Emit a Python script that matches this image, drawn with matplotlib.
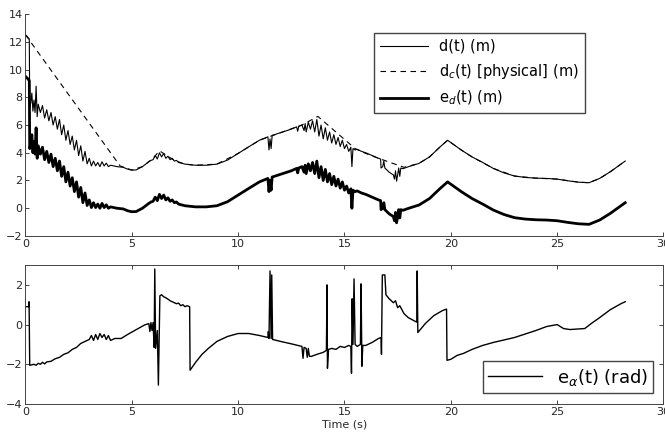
import numpy as np
import matplotlib as mpl
mpl.use('Agg')
import matplotlib.pyplot as plt

# top panel: distance d(t), commanded distance d_c(t), error e_d(t)
t_top = [0.0, 0.1, 0.18, 0.2,
         0.25, 0.3, 0.35, 0.4, 0.45, 0.5, 0.55, 0.6, 0.7, 0.8, 0.9, 1.0, 1.1, 1.2, 1.3, 1.4,
         1.5, 1.6, 1.7, 1.8, 1.9, 2.0, 2.1, 2.2, 2.3, 2.4, 2.5, 2.6, 2.7, 2.8, 2.9, 3.0,
         3.1, 3.2, 3.3, 3.4, 3.5, 3.6, 3.7, 3.8, 3.9, 4.0,
         4.3, 4.6, 4.8, 5.0, 5.2, 5.5, 5.8,
         5.9, 6.0, 6.1, 6.2, 6.3, 6.4, 6.5, 6.6, 6.7, 6.8, 6.9, 7.0, 7.1, 7.2,
         7.5, 8.0, 8.5, 9.0, 9.5, 10.0, 10.5, 11.0,
         11.4, 11.45, 11.5, 11.55, 11.6, 12.0, 12.5, 12.75,
         12.8, 12.85, 13.0, 13.1, 13.15, 13.2, 13.3, 13.4, 13.5, 13.6, 13.7, 13.8, 13.9,
         14.0, 14.1, 14.2, 14.3, 14.4, 14.5, 14.6, 14.7, 14.8, 14.9, 15.0, 15.1, 15.2, 15.3,
         15.35, 15.4, 15.5, 15.6, 15.8, 16.0, 16.3, 16.6, 16.7,
         16.72, 16.8, 16.85, 16.9, 17.0, 17.1, 17.2, 17.3, 17.35, 17.4, 17.45, 17.5, 17.55,
         17.6, 17.65, 17.75,
         18.0, 18.5, 19.0, 19.5, 19.85, 20.5, 21.0, 21.5, 22.0, 22.5, 23.0, 23.5, 24.0,
         24.5, 25.0, 25.5, 26.0, 26.5, 27.0, 27.5, 28.0, 28.2]

d = [12.5, 12.35, 12.2, 7.3,
     7.6, 8.3, 7.0, 7.8, 6.9, 8.8, 6.6, 7.5, 6.9, 7.4, 6.5, 7.1, 6.3, 6.9, 6.0, 6.6,
     5.7, 6.4, 5.3, 6.0, 4.9, 5.6, 4.6, 5.2, 4.2, 4.9, 3.8, 4.5, 3.4, 4.1, 3.2, 3.6,
     3.05, 3.4, 3.05, 3.3, 3.0, 3.35, 3.05, 3.25, 3.0, 3.1,
     3.0, 2.95, 2.82, 2.75, 2.76, 3.0, 3.35,
     3.45, 3.5, 3.8, 3.55, 4.0, 3.7, 3.95, 3.6, 3.75, 3.5, 3.6, 3.4, 3.45, 3.3,
     3.18, 3.1, 3.1, 3.18, 3.47, 3.95, 4.43, 4.9,
     5.15, 4.2, 5.0, 4.3, 5.25, 5.45, 5.7, 5.87,
     5.55, 5.9, 6.0, 5.6, 6.1, 5.5, 6.2, 5.7, 6.3, 5.5, 6.4, 5.2, 6.0,
     5.0, 5.8, 4.9, 5.5, 4.7, 5.3, 4.6, 5.1, 4.45, 4.9, 4.3, 4.6, 4.1, 4.4,
     3.0, 4.3, 4.2, 4.25, 4.1, 4.0, 3.8, 3.6, 3.55,
     2.9, 3.0, 3.4, 2.9, 2.75, 2.6, 2.5, 2.4, 2.1, 2.7, 1.95, 2.4, 2.9,
     2.3, 2.9, 2.85,
     2.99, 3.23, 3.7, 4.43, 4.9, 4.19, 3.7, 3.3, 2.87, 2.55, 2.32, 2.22, 2.17,
     2.15, 2.1, 1.98, 1.88, 1.84, 2.15, 2.63, 3.18, 3.4]

e_d = [9.5, 9.35, 9.2, 4.3,
       4.6, 5.3, 4.0, 4.8, 3.9, 5.8, 3.6, 4.5, 3.9, 4.4, 3.5, 4.1, 3.3, 3.9, 3.0, 3.6,
       2.7, 3.4, 2.3, 3.0, 1.9, 2.6, 1.6, 2.2, 1.2, 1.9, 0.8, 1.5, 0.4, 1.1, 0.2, 0.6,
       0.05, 0.4, 0.05, 0.3, 0.0, 0.35, 0.05, 0.25, 0.0, 0.1,
       0.0, -0.05, -0.18, -0.25, -0.24, 0.0, 0.35,
       0.45, 0.5, 0.8, 0.55, 1.0, 0.7, 0.95, 0.6, 0.75, 0.5, 0.6, 0.4, 0.45, 0.3,
       0.18, 0.1, 0.1, 0.18, 0.47, 0.95, 1.43, 1.9,
       2.15, 1.2, 2.0, 1.3, 2.25, 2.45, 2.7, 2.87,
       2.55, 2.9, 3.0, 2.6, 3.1, 2.5, 3.2, 2.7, 3.3, 2.5, 3.4, 2.2, 3.0,
       2.0, 2.8, 1.9, 2.5, 1.7, 2.3, 1.6, 2.1, 1.45, 1.9, 1.3, 1.6, 1.1, 1.4,
       0.0, 1.3, 1.2, 1.25, 1.1, 1.0, 0.8, 0.6, 0.55,
       -0.1, 0.0, 0.4, -0.1, -0.25, -0.4, -0.5, -0.6, -0.9, -0.3, -1.05, -0.6, -0.1,
       -0.7, -0.1, -0.15,
       -0.01, 0.23, 0.7, 1.43, 1.9, 1.19, 0.7, 0.3, -0.13, -0.45, -0.68, -0.78, -0.83,
       -0.85, -0.9, -1.02, -1.12, -1.16, -0.85, -0.37, 0.18, 0.4]

t_dc = [0.0, 4.45, 5.0, 5.5, 6.0, 6.3, 7.0, 7.5, 8.0, 9.0, 10.0, 11.0, 12.0, 13.0, 13.75,
        15.5, 16.0, 16.6, 17.8, 18.5, 19.0, 19.5, 19.85, 20.5, 21.0, 22.0, 23.0, 24.0,
        25.0, 26.0, 26.5, 27.0, 27.5, 28.0, 28.2]
d_c = [12.5, 3.05, 2.75, 3.0, 3.6, 4.14, 3.45, 3.18, 3.1, 3.18, 3.95, 4.9, 5.45, 6.0, 6.62,
       4.3, 3.95, 3.6, 2.95, 3.23, 3.7, 4.43, 4.9, 4.19, 3.7, 2.87, 2.32, 2.17,
       2.1, 1.88, 1.84, 2.15, 2.63, 3.18, 3.4]

# bottom panel: heading error e_alpha(t)
t_ea = [0.0, 0.15, 0.17, 0.2, 0.4, 0.5, 0.6, 0.7, 0.8, 0.9, 1.0, 1.2, 1.4, 1.6, 1.8, 2.0,
        2.2, 2.4, 2.6, 2.8, 3.0, 3.1, 3.2, 3.3, 3.4, 3.5, 3.6, 3.7, 3.8, 3.9, 4.0, 4.2,
        4.5, 4.8, 5.0, 5.3, 5.6, 5.8, 5.85, 5.9, 5.95, 6.0, 6.05, 6.08, 6.12, 6.2, 6.25,
        6.32, 6.4, 6.5, 6.6, 6.7, 6.8, 6.9, 7.0, 7.1, 7.2, 7.3, 7.4, 7.5, 7.6, 7.72, 7.74,
        8.0, 8.3, 8.6, 9.0, 9.5, 10.0, 10.5, 11.0, 11.4, 11.42, 11.45, 11.5, 11.55, 11.58,
        11.62, 12.0, 12.5, 13.0, 13.05, 13.1, 13.2, 13.25, 13.3, 13.35, 13.45, 13.7, 14.0,
        14.15, 14.18, 14.2, 14.25, 14.4, 14.6, 14.8, 15.0, 15.2, 15.3, 15.33, 15.36, 15.4,
        15.45, 15.5, 15.6, 15.75, 15.78, 15.82, 15.86, 16.0, 16.3, 16.6, 16.72, 16.74,
        16.78, 16.9, 16.95, 17.1, 17.3, 17.4, 17.5, 17.6, 17.8, 18.0, 18.4, 18.42, 18.45,
        18.8, 19.2, 19.6, 19.8, 19.82, 20.0, 20.3, 20.6, 21.0, 21.5, 22.0, 23.0, 24.0,
        24.5, 25.0, 25.3, 25.6, 26.0, 26.3, 26.6, 27.0, 27.5, 28.0, 28.2]
e_alpha = [0.9, 0.9, 1.15, -2.05, -2.0, -2.05, -1.95, -2.0, -1.9, -1.98, -1.88, -1.85,
           -1.72, -1.65, -1.5, -1.42, -1.25, -1.15, -0.95, -0.85, -0.75, -0.55, -0.8,
           -0.5, -0.75, -0.45, -0.65, -0.5, -0.75, -0.55, -0.8, -0.7,
           -0.7, -0.5, -0.38, -0.2, -0.02, 0.05, -0.35, 0.1, -0.3, 0.1, -1.15, 2.8, -1.2,
           -0.3, -3.05, 1.45, 1.5, 1.4, 1.35, 1.28, 1.2, 1.15, 1.1, 1.05, 1.08, 0.95, 1.0,
           0.9, 0.95, 0.9, -2.3,
           -1.9, -1.5, -1.2, -0.85, -0.6, -0.45, -0.45, -0.55, -0.65, -0.35, -0.7, 2.7,
           -0.7, 2.5, -0.75, -0.85, -0.97, -1.1, -1.7, -1.15, -1.2, -1.65, -1.2, -1.6,
           -1.6, -1.5, -1.4, -1.3, 2.0, -2.2, -1.25, -1.2, -1.25, -1.1, -1.15, -1.05,
           -1.1, -2.45, 1.3, -1.0, 2.3, -1.0, -1.1, -1.0, 2.05, -2.1, -1.05, -1.05, -0.9,
           -0.7, -0.65, -1.5, 2.5, 2.5, 1.5, 1.3, 1.1, 1.2, 0.85, 0.95, 0.55, 0.35, 0.12,
           2.7, -0.4, 0.05, 0.45, 0.7, 0.78, -1.8, -1.75, -1.55, -1.45, -1.25, -1.05,
           -0.9, -0.65, -0.3, -0.1, 0.0, -0.2, -0.25, -0.22, -0.2, 0.05, 0.35, 0.75,
           1.05, 1.15]

plt.rcParams['font.family'] = 'DejaVu Sans'
plt.rcParams['xtick.direction'] = 'in'
plt.rcParams['ytick.direction'] = 'in'

fig = plt.figure(figsize=(6.65, 4.38), dpi=100)
ax1 = fig.add_axes([0.0383, 0.4612, 0.9594, 0.5068])
ax2 = fig.add_axes([0.0383, 0.0776, 0.9594, 0.3174])

ax1.plot(t_top, d, color='black', lw=0.8, label='d(t) (m)')
ax1.plot(t_dc, d_c, color='black', lw=0.8, ls=(0, (5, 4)), label=r'd$_c$(t) [physical] (m)')
ax1.plot(t_top, e_d, color='black', lw=2.0, label=r'e$_d$(t) (m)')
ax1.set_xlim(0, 30)
ax1.set_ylim(-2, 14)
ax1.set_xticks(np.arange(0, 31, 5))
ax1.set_yticks(np.arange(-2, 15, 2))
ax1.spines['top'].set_visible(False)
ax1.spines['right'].set_visible(False)
leg1 = ax1.legend(loc='upper left', bbox_to_anchor=(0.546, 0.914), fontsize=10.5,
                  handlelength=3.3, labelspacing=0.55, fancybox=False, framealpha=1,
                  edgecolor='#444444', borderaxespad=0)

ax2.plot(t_ea, e_alpha, color='black', lw=1.0, label=r'e$_\alpha$(t) (rad)')
ax2.set_xlim(0, 30)
ax2.set_ylim(-4, 3)
ax2.set_xticks(np.arange(0, 31, 5))
ax2.set_yticks([-4, -2, 0, 2])
ax2.tick_params(top=True, right=True)
ax2.set_xlabel('Time (s)', fontsize=8, color='#262626', labelpad=2)
ax2.legend(loc='lower right', bbox_to_anchor=(0.984, 0.079), fontsize=13,
           handlelength=3.0, fancybox=False, framealpha=1, edgecolor='#444444',
           borderaxespad=0, borderpad=0.3)

for ax in (ax1, ax2):
    ax.tick_params(labelsize=8, colors='#262626', length=3, width=0.6, pad=2)
    for s in ax.spines.values():
        s.set_color('#444444')
        s.set_linewidth(0.7)

fig.savefig('out.png', dpi=100)
